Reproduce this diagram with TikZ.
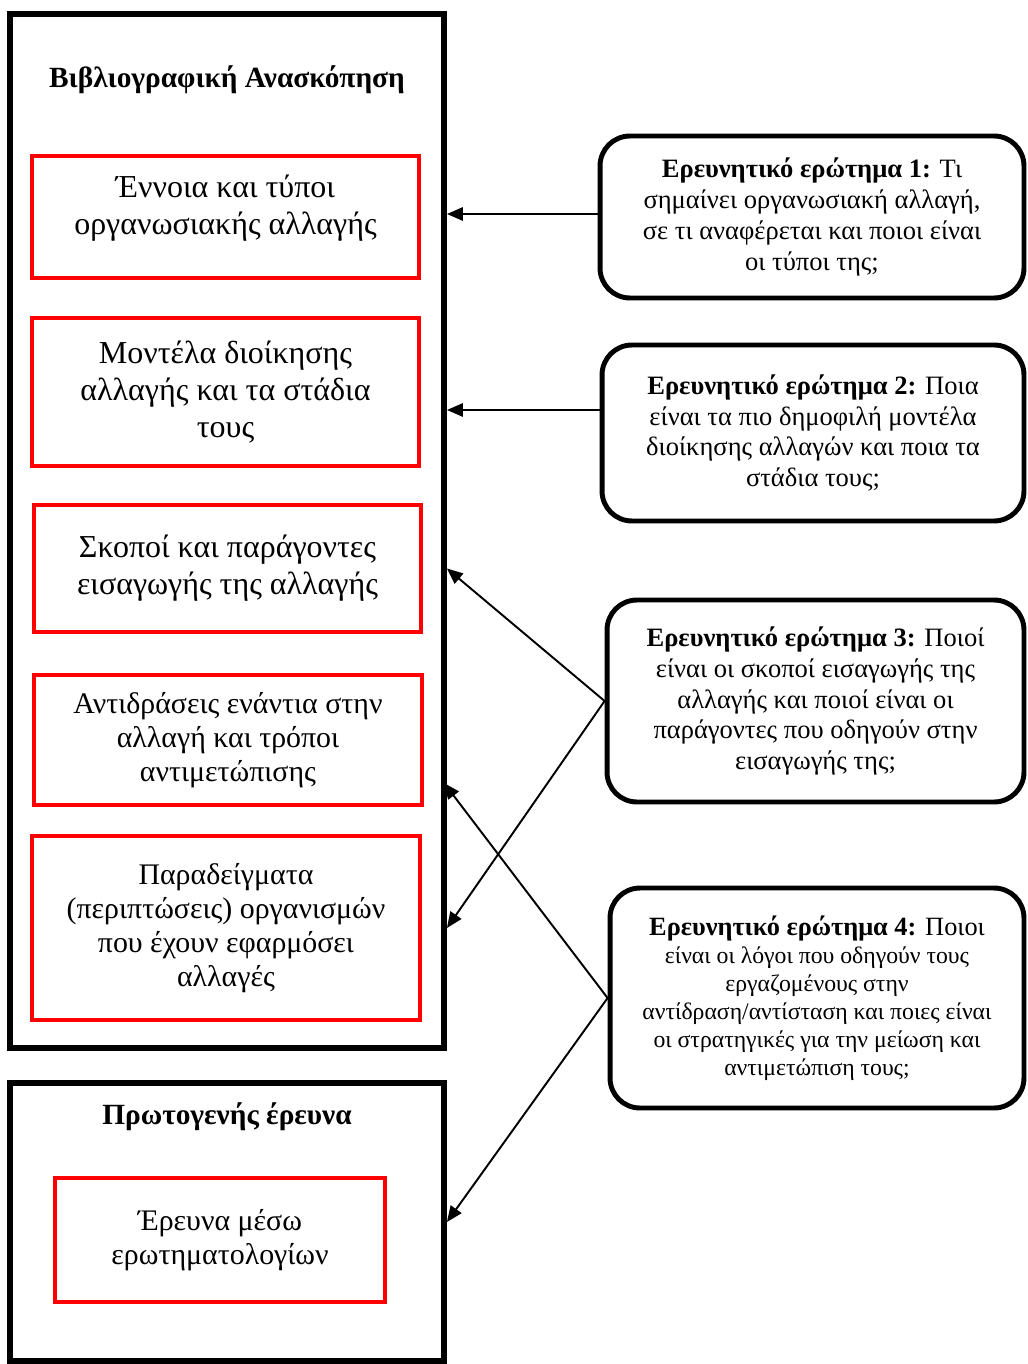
\documentclass[tikz,border=0pt]{standalone}
\usepackage{fontspec}
\setmainfont{Liberation Serif}
\usetikzlibrary{arrows.meta}

\begin{document}
\begin{tikzpicture}[x=0.02cm, y=-0.02cm]
    % Define styles
    \tikzstyle{outerbox} = [rectangle, draw=black, line width=3.4pt, minimum width=8.68cm]
    \tikzstyle{topic} = [rectangle, draw=red, line width=2.3pt, align=center, font=\fontsize{18.2}{21}\selectfont]
    \tikzstyle{topicsmall} = [topic, font=\fontsize{17}{19.3}\selectfont]
    \tikzstyle{question} = [rectangle, rounded corners=17pt, draw=black, line width=2.8pt, align=center, font=\fontsize{15.1}{17.6}\selectfont]
    \tikzstyle{heading} = [font=\bfseries\fontsize{16.7}{19}\selectfont]
    \tikzstyle{arrow} = [line width=1.1pt, -{Triangle[length=9pt, width=7.5pt]}]

    \useasboundingbox (0,0) rectangle (1027,1364);

    % Left column
    \node [outerbox, minimum height=20.68cm] (lit) at (227,531) {};
    \node [heading] (littitle) at (227,80) {Βιβλιογραφική Ανασκόπηση};
    \node [topic, minimum width=7.74cm, minimum height=2.44cm, text depth=14pt] (concept) at (225.5,217) {Έννοια και τύποι\\οργανωσιακής αλλαγής};
    \node [topic, minimum width=7.74cm, minimum height=2.96cm] (models) at (225.5,392) {Μοντέλα διοίκησης\\αλλαγής και τα στάδια\\τους};
    \node [topic, minimum width=7.74cm, minimum height=2.54cm] (goals) at (227.5,568.5) {Σκοποί και παράγοντες\\εισαγωγής της αλλαγής};
    \node [topicsmall, minimum width=7.76cm, minimum height=2.6cm] (resist) at (228,740) {Αντιδράσεις ενάντια στην\\αλλαγή και τρόποι\\αντιμετώπισης};
    \node [topicsmall, minimum width=7.76cm, minimum height=3.68cm] (cases) at (226,928) {Παραδείγματα\\(περιπτώσεις) οργανισμών\\που έχουν εφαρμόσει\\αλλαγές};

    \node [outerbox, minimum height=5.56cm] (prim) at (227,1222) {};
    \node [heading] (primtitle) at (227,1117) {Πρωτογενής έρευνα};
    \node [topicsmall, minimum width=6.6cm, minimum height=2.48cm] (survey) at (220,1240) {Έρευνα μέσω\\ερωτηματολογίων};

    % Right column
    \node [question, minimum width=8.48cm, minimum height=3.24cm] (q1) at (812,217) {\textbf{Ερευνητικό ερώτημα 1:} Τι\\σημαίνει οργανωσιακή αλλαγή,\\σε τι αναφέρεται και ποιοι είναι\\οι τύποι της;};
    \node [question, minimum width=8.44cm, minimum height=3.52cm] (q2) at (813,433) {\textbf{Ερευνητικό ερώτημα 2:} Ποια\\είναι τα πιο δημοφιλή μοντέλα\\διοίκησης αλλαγών και ποια τα\\στάδια τους;};
    \node [question, minimum width=8.34cm, minimum height=4.04cm] (q3) at (815.5,701) {\textbf{Ερευνητικό ερώτημα 3:} Ποιοί\\είναι οι σκοποί εισαγωγής της\\αλλαγής και ποιοί είναι οι\\παράγοντες που οδηγούν στην\\εισαγωγής της;};
    \node [question, minimum width=8.28cm, minimum height=4.4cm, font=\fontsize{13.5}{15.9}\selectfont] (q4) at (817,998) {{\fontsize{15}{15.9}\selectfont\textbf{Ερευνητικό ερώτημα 4:} Ποιοι}\\είναι οι λόγοι που οδηγούν τους\\εργαζομένους στην\\αντίδραση/αντίσταση και ποιες είναι\\οι στρατηγικές για την μείωση και\\αντιμετώπιση τους;};

    \coordinate (q1out) at (600,214);
    \coordinate (q2out) at (602,410);
    \coordinate (resistin) at (444,783);

    % Arrows
    \draw [arrow] (q1out) -- (q1out -| lit.east);
    \draw [arrow] (q2out) -- (q2out -| lit.east);
    \draw [arrow] (q3.west) -- (goals.east -| lit.east);
    \draw [arrow] (q3.west) -- (cases.east -| lit.east);
    \draw [arrow] (q4.west) -- (resistin);
    \draw [arrow] (q4.west) -- (prim.east);
\end{tikzpicture}
\end{document}
